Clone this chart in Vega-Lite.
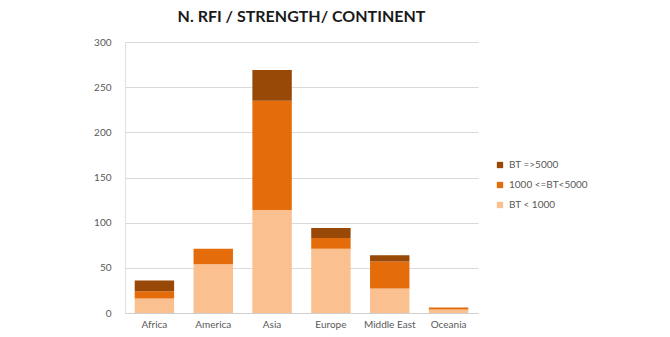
{
  "$schema": "https://vega.github.io/schema/vega-lite/v6.json",
  "autosize": "none",
  "width": 353,
  "height": 271,
  "padding": {"left": 125, "top": 42, "right": 192, "bottom": 24},
  "background": "white",
  "title": {
    "text": "N. RFI / STRENGTH/ CONTINENT",
    "font": "Lato",
    "fontSize": 16,
    "fontWeight": "bold",
    "color": "#1a1a1a",
    "anchor": "middle",
    "offset": 12
  },
  "data": {
    "values": [
      {"continent": "Africa", "class": "BT < 1000", "order": 1, "n": 16},
      {"continent": "Africa", "class": "1000 <=BT<5000", "order": 2, "n": 8},
      {"continent": "Africa", "class": "BT =>5000", "order": 3, "n": 12},
      {"continent": "America", "class": "BT < 1000", "order": 1, "n": 54},
      {"continent": "America", "class": "1000 <=BT<5000", "order": 2, "n": 17},
      {"continent": "America", "class": "BT =>5000", "order": 3, "n": 0},
      {"continent": "Asia", "class": "BT < 1000", "order": 1, "n": 114},
      {"continent": "Asia", "class": "1000 <=BT<5000", "order": 2, "n": 121},
      {"continent": "Asia", "class": "BT =>5000", "order": 3, "n": 34},
      {"continent": "Europe", "class": "BT < 1000", "order": 1, "n": 71},
      {"continent": "Europe", "class": "1000 <=BT<5000", "order": 2, "n": 12},
      {"continent": "Europe", "class": "BT =>5000", "order": 3, "n": 11},
      {"continent": "Middle East", "class": "BT < 1000", "order": 1, "n": 27},
      {"continent": "Middle East", "class": "1000 <=BT<5000", "order": 2, "n": 30},
      {"continent": "Middle East", "class": "BT =>5000", "order": 3, "n": 7},
      {"continent": "Oceania", "class": "BT < 1000", "order": 1, "n": 4},
      {"continent": "Oceania", "class": "1000 <=BT<5000", "order": 2, "n": 2},
      {"continent": "Oceania", "class": "BT =>5000", "order": 3, "n": 0}
    ]
  },
  "mark": {"type": "bar"},
  "encoding": {
    "x": {
      "field": "continent",
      "type": "nominal",
      "sort": ["Africa", "America", "Asia", "Europe", "Middle East", "Oceania"],
      "scale": {"paddingInner": 0.33, "paddingOuter": 0.165},
      "axis": {
        "title": null,
        "labelAngle": 0,
        "labelFont": "Lato",
        "labelFontSize": 10,
        "labelColor": "#595959",
        "domainColor": "#D0D0D0",
        "ticks": false,
        "labelPadding": 6,
        "grid": false
      }
    },
    "y": {
      "field": "n",
      "type": "quantitative",
      "stack": "zero",
      "scale": {"domain": [0, 300]},
      "axis": {
        "title": null,
        "values": [0, 50, 100, 150, 200, 250, 300],
        "labelFont": "Lato",
        "labelFontSize": 10,
        "labelColor": "#595959",
        "domainColor": "#E0E0E0",
        "ticks": false,
        "labelPadding": 14,
        "gridColor": "#D9D9D9"
      }
    },
    "color": {
      "field": "class",
      "type": "nominal",
      "scale": {
        "domain": ["BT =>5000", "1000 <=BT<5000", "BT < 1000"],
        "range": ["#984807", "#E46C0A", "#FAC090"]
      },
      "legend": {
        "title": null,
        "orient": "none",
        "legendX": 370,
        "legendY": 118,
        "symbolType": "square",
        "symbolSize": 40,
        "labelFont": "Lato",
        "labelFontSize": 10,
        "labelColor": "#595959",
        "rowPadding": 10
      }
    },
    "order": {"field": "order", "type": "quantitative"}
  },
  "config": {"view": {"stroke": null}}
}
